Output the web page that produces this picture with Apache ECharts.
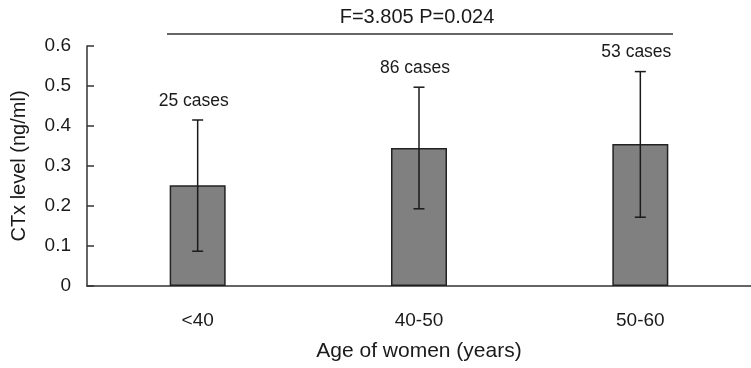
<!DOCTYPE html>
<html>
<head>
<meta charset="utf-8">
<script src="https://cdn.jsdelivr.net/npm/echarts@6/dist/echarts.min.js"></script>
<style>
html,body{margin:0;padding:0;background:#fff;}
#chart{width:751px;height:368px;}
</style>
</head>
<body>
<div id="chart"></div>
<script>
// data
var ageGroups = ['<40', '40-50', '50-60'];
var ctxMean = [0.252, 0.345, 0.355];
var ctxUpper = [0.415, 0.497, 0.536];
var ctxLower = [0.087, 0.193, 0.172];
var caseLabels = ['25 cases', '86 cases', '53 cases'];
var yTicks = [0, 0.1, 0.2, 0.3, 0.4, 0.5, 0.6];
var statText = 'F=3.805 P=0.024';

var FONT = '"Liberation Sans", Arial, sans-serif';
var INK = '#1a1a1a';

// error bars + case count above each
var errData = [];
for (var i = 0; i < ageGroups.length; i++) {
    errData.push([i, ctxLower[i], ctxUpper[i], caseLabels[i]]);
}
function renderErr(params, api) {
    var lo = api.coord([api.value(0), api.value(1)]);
    var hi = api.coord([api.value(0), api.value(2)]);
    var cap = 5.5;
    var st = {stroke: INK, lineWidth: 1.5};
    return {
        type: 'group',
        children: [
            {type: 'line', shape: {x1: hi[0], y1: hi[1], x2: lo[0], y2: lo[1]}, style: st},
            {type: 'line', shape: {x1: hi[0] - cap, y1: hi[1], x2: hi[0] + cap, y2: hi[1]}, style: st},
            {type: 'line', shape: {x1: lo[0] - cap, y1: lo[1], x2: lo[0] + cap, y2: lo[1]}, style: st},
            {type: 'text', x: hi[0] - 4, y: hi[1] - 19, style: {
                text: api.value(3), fill: INK, font: '17.5px ' + FONT,
                align: 'center', verticalAlign: 'middle'}}
        ]
    };
}

var option = {
    backgroundColor: '#fff',
    animation: false,
    textStyle: {fontFamily: FONT, color: INK},
    grid: {left: 87, top: 46, width: 669, bottom: 82},
    xAxis: {
        type: 'category',
        data: ageGroups,
        name: 'Age of women (years)',
        nameLocation: 'middle',
        nameGap: 55,
        nameTextStyle: {fontSize: 21, color: INK, fontFamily: FONT},
        axisLine: {lineStyle: {color: '#333', width: 1.5}},
        axisTick: {inside: true, length: 6, lineStyle: {color: '#333', width: 1.5}},
        axisLabel: {fontSize: 19, color: INK, margin: 25, fontFamily: FONT}
    },
    yAxis: {
        type: 'value',
        min: yTicks[0],
        max: yTicks[yTicks.length - 1],
        interval: 0.1,
        name: 'CTx level (ng/ml)',
        nameLocation: 'middle',
        nameGap: 58,
        nameTextStyle: {fontSize: 20, color: INK, fontFamily: FONT},
        splitLine: {show: false},
        axisLine: {show: true, lineStyle: {color: '#333', width: 1.5}},
        axisTick: {show: true, inside: true, length: 7, lineStyle: {color: '#333', width: 1.5}},
        axisLabel: {fontSize: 19, color: INK, margin: 16, fontFamily: FONT,
            formatter: function (v) { return v === 0 ? '0' : v.toFixed(1); }}
    },
    series: [
        {
            type: 'bar',
            data: ctxMean,
            barWidth: 56,
            itemStyle: {color: '#808080', borderColor: '#222', borderWidth: 1.5}
        },
        {
            type: 'custom',
            data: errData,
            renderItem: renderErr,
            encode: {x: 0, y: [1, 2]},
            z: 5
        }
    ],
    graphic: [
        {type: 'text', x: 417, y: 17, style: {text: statText, fill: INK,
            font: '20px ' + FONT, align: 'center', verticalAlign: 'middle'}},
        {type: 'line', shape: {x1: 167, y1: 34, x2: 673, y2: 34},
            style: {stroke: '#333', lineWidth: 1.5}}
    ]
};

var myChart = echarts.init(document.getElementById('chart'));
myChart.setOption(option);
</script>
</body>
</html>
